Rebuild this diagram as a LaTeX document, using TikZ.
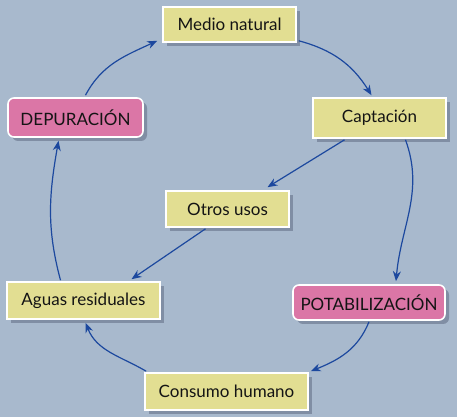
\documentclass[tikz,border=0pt]{standalone}
\usepackage{fontspec}
\setmainfont{Lato}
\usetikzlibrary{arrows.meta,shadows}

\definecolor{fundo}{RGB}{168,185,205}
\definecolor{sombra}{RGB}{128,142,164}
\definecolor{amarelo}{RGB}{226,222,146}
\definecolor{rosa}{RGB}{219,118,166}
\definecolor{azul}{RGB}{28,72,158}
\definecolor{texto}{RGB}{20,20,20}

\tikzset{
  caixa/.style={draw=white, line width=1.6pt, fill=amarelo, text=texto, inner sep=0pt,
    font=\fontsize{17}{20}\selectfont,
    drop shadow={shadow xshift=4pt, shadow yshift=-4pt, fill=sombra, opacity=1}},
  etapa/.style={caixa, fill=rosa, rounded corners=6pt},
  seta/.style={-{Stealth[length=10pt,width=8pt]}, azul, line width=1.2pt}
}

\begin{document}
\begin{tikzpicture}[x=1pt, y=1pt]
	%fundo
	\fill[fundo] (0, 0) rectangle (457, 417);
	\useasboundingbox (0, 0) rectangle (457, 417);

	%caixas
	\node[caixa, minimum width=133pt, minimum height=35pt] (medio) at (229.5, 392.5) {Medio natural};
	\node[caixa, minimum width=133pt, minimum height=40pt] (capt) at (379.5, 299) {Captación};
	\node[etapa, minimum width=135pt, minimum height=39pt] (depur) at (75.5, 299.5) {DEPURACIÓN};
	\node[caixa, minimum width=123pt, minimum height=36pt] (otros) at (227.5, 208) {Otros usos};
	\node[caixa, minimum width=153pt, minimum height=37pt] (aguas) at (83.5, 116.5) {Aguas residuales};
	\node[etapa, minimum width=152pt, minimum height=35pt] (potab) at (369, 114.5) {POTABILIZACIÓN};
	\node[caixa, minimum width=163pt, minimum height=37pt] (consumo) at (226.5, 25.5) {Consumo humano};

	%ciclo
	\draw[seta] ([xshift=10pt, yshift=2pt]depur.north) to[out=62, in=205] ([xshift=-5pt, yshift=2pt]medio.south west);
	\draw[seta] ([xshift=2pt, yshift=2pt]medio.south east) to[out=-15, in=122] ([xshift=-8pt, yshift=2pt]capt.north);
	\draw[seta] ([xshift=26pt, yshift=-1pt]capt.south) to[out=-70, in=85] ([xshift=27pt, yshift=3pt]potab.north);
	\draw[seta] ([yshift=-1pt]potab.south) to[out=-112, in=22] ([xshift=2pt, yshift=1pt]consumo.north east);
	\draw[seta] ([xshift=2pt, yshift=1pt]consumo.north west) to[out=150, in=-68] ([xshift=2pt, yshift=-3pt]aguas.south);
	\draw[seta] ([xshift=-23pt, yshift=1pt]aguas.north) to[out=105, in=-100] ([xshift=-17pt, yshift=-3pt]depur.south);

	%outros usos
	\draw[seta] ([xshift=-35pt, yshift=-1pt]capt.south) -- ([xshift=40pt, yshift=3pt]otros.north);
	\draw[seta] ([xshift=-22pt, yshift=-1pt]otros.south) -- ([xshift=48pt, yshift=2pt]aguas.north);
\end{tikzpicture}
\end{document}
